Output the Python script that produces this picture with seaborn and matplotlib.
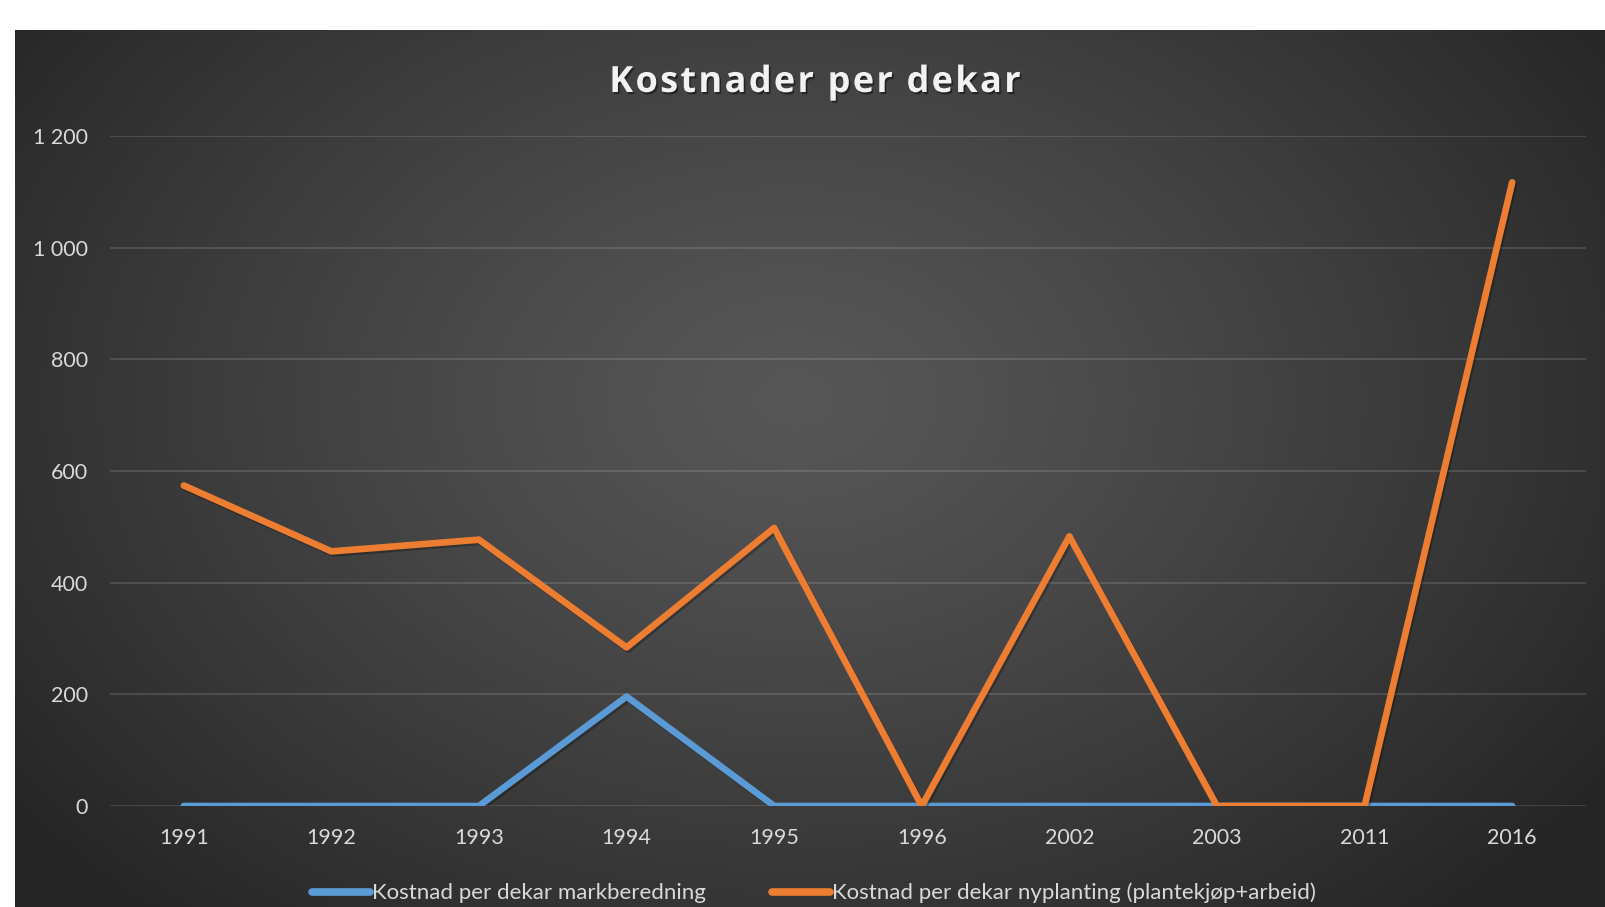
import numpy as np
import pandas as pd
import matplotlib
matplotlib.use("Agg")
import matplotlib.pyplot as plt
import matplotlib.patheffects as pe
from matplotlib.lines import Line2D
import seaborn as sns

# Data
years = ["1991", "1992", "1993", "1994", "1995", "1996", "2002", "2003", "2011", "2016"]
markberedning = [0, 0, 0, 196, 0, 0, 0, 0, 0, 0]
nyplanting = [574, 456, 477, 284, 498, 0, 483, 0, 0, 1117]
series_names = ["Kostnad per dekar markberedning",
                "Kostnad per dekar nyplanting (plantekjøp+arbeid)"]
y_ticks = [0, 200, 400, 600, 800, 1000, 1200]
y_tick_labels = ["0", "200", "400", "600", "800", "1 000", "1 200"]
title_text = "Kostnader per dekar"

df = pd.DataFrame({
    "År": years * 2,
    "Kostnad": markberedning + nyplanting,
    "Serie": [series_names[0]] * len(years) + [series_names[1]] * len(years),
})

sns.set_theme(style="dark")
plt.rcParams["font.family"] = ["Lato", "DejaVu Sans"]

W, H = 1605, 907
fig = plt.figure(figsize=(W / 100, H / 100), dpi=100, facecolor="white")

# Dark panel with a radial gradient
panel_left, panel_top = 15, 30
bg = fig.add_axes([panel_left / W, 0, 1 - panel_left / W, (H - panel_top) / H])
bg.set_axis_off()
pw, ph = W - panel_left, H - panel_top
yy, xx = np.mgrid[0:ph, 0:pw]
cx, cy = pw * 0.49, ph * 0.42
r = np.sqrt(((xx - cx) / (pw * 0.62)) ** 2 + ((yy - cy) / (ph * 0.80)) ** 2)
r = np.clip(r, 0, 1)
inner, outer = 0x57 / 255, 0x25 / 255
val = inner + (outer - inner) * r ** 1.2
img = np.dstack([val, val, val])
bg.imshow(img, aspect="auto", extent=[0, 1, 0, 1], interpolation="bilinear")
bg.set_xlim(0, 1)
bg.set_ylim(0, 1)

# Plot area
left, right, top, bottom = 110, 1586, 136, 806
ax = fig.add_axes([left / W, 1 - bottom / H, (right - left) / W, (bottom - top) / H])
ax.patch.set_alpha(0)

palette = {series_names[0]: "#5B9BD5", series_names[1]: "#ED7D31"}
sns.lineplot(data=df, x="År", y="Kostnad", hue="Serie", palette=palette,
             sort=False, linewidth=4.8, ax=ax, legend=False)

shadow = [pe.SimpleLineShadow(offset=(1.2, -1.5), shadow_color="black", alpha=0.28),
          pe.Normal()]
for line in ax.get_lines():
    line.set_solid_capstyle("round")
    line.set_solid_joinstyle("round")
    line.set_path_effects(shadow)

ax.set_xlim(-0.5, len(years) - 0.5)
ax.set_ylim(0, 1200)
ax.set_yticks(y_ticks)
ax.set_yticklabels(y_tick_labels)
ax.set_xticks(range(len(years)))
ax.set_xticklabels(years)
ax.set_xlabel("")
ax.set_ylabel("")
ax.grid(False)
for yv in y_ticks:
    ax.axhline(yv, color="white", alpha=0.13, linewidth=1.5, zorder=0)
for s in ax.spines.values():
    s.set_visible(False)
ax.tick_params(axis="both", length=0, colors="#D9D9D9", labelsize=15.5)
ax.tick_params(axis="y", pad=16)
ax.tick_params(axis="x", pad=16)

# Title with letter spacing, laid out glyph by glyph
renderer = fig.canvas.get_renderer()
title_kw = dict(fontsize=26, fontweight="bold", color="#F2F2F2",
                family=["Open Sans", "DejaVu Sans"], va="center", ha="left")
tracking = 2.3
space_w = 9.0
widths = []
for ch in title_text:
    if ch == " ":
        widths.append(space_w)
    else:
        t = fig.text(0, 0, ch, **title_kw)
        widths.append(t.get_window_extent(renderer).width)
        t.remove()
total = sum(widths) + tracking * (len(title_text) - 1)
x = 815 - total / 2
title_shadow = [pe.SimplePatchShadow(offset=(1.2, -1.5), shadow_rgbFace="black", alpha=0.45),
                pe.Normal()]
for ch, w in zip(title_text, widths):
    if ch != " ":
        t = fig.text(x / W, 1 - 83 / H, ch, **title_kw)
        t.set_path_effects(title_shadow)
    x += w + tracking

# Legend
handles = [Line2D([0], [0], color=palette[n], linewidth=5.5, solid_capstyle="round")
           for n in series_names]
leg = fig.legend(handles, series_names, loc="center", bbox_to_anchor=(814 / W, 1 - 893 / H),
                 ncol=2, frameon=False, fontsize=16, handlelength=2.6,
                 handletextpad=0.1, columnspacing=3.0)
for t in leg.get_texts():
    t.set_color("#D9D9D9")

fig.savefig("out.png", dpi=100, facecolor="white")
